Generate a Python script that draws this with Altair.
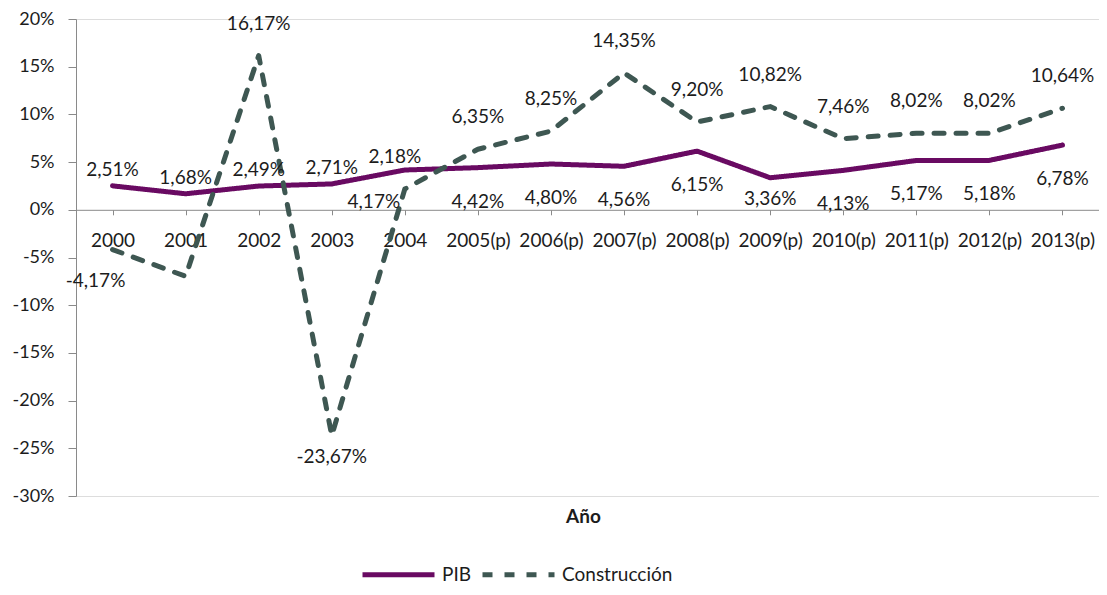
import altair as alt
import pandas as pd

years = ["2000", "2001", "2002", "2003", "2004", "2005(p)", "2006(p)", "2007(p)",
         "2008(p)", "2009(p)", "2010(p)", "2011(p)", "2012(p)", "2013(p)"]
pib = [2.51, 1.68, 2.49, 2.71, 4.17, 4.42, 4.80, 4.56, 6.15, 3.36, 4.13, 5.17, 5.18, 6.78]
construccion = [-4.17, -6.97, 16.17, -23.67, 2.18, 6.35, 8.25, 14.35, 9.20, 10.82,
                7.46, 8.02, 8.02, 10.64]
# where each data label sits relative to its point (None = no label shown)
pib_label_place = ["above_near", "above_near", "above_near", "above_near", "below_left",
                   "below", "below", "below", "below", "below_near", "below", "below",
                   "below", "below"]
con_label_place = ["below_left_c", None, "above", "below_near", "above_left",
                   "above", "above", "above", "above", "above", "above", "above", "above", "above"]
series_names = ["PIB", "Construcción"]
y_ticks = [-30, -25, -20, -15, -10, -5, 0, 5, 10, 15, 20]

PURPLE = "#690A62"
SLATE = "#3E5752"
TEXT = "#1c1c1c"
GRID = "#8a8a8a"
FONT = "Lato"

W, H = 1023, 477
TOP = 11


def fmt(v):
    return f"{v:.2f}".replace(".", ",") + "%"


rows = []
for y, v, p in zip(years, pib, pib_label_place):
    rows.append({"year": y, "value": v, "serie": "PIB", "label": fmt(v), "place": p})
for y, v, p in zip(years, construccion, con_label_place):
    rows.append({"year": y, "value": v, "serie": "Construcción", "label": fmt(v), "place": p})
df = pd.DataFrame(rows)

zero_y = H * 20 / 50

x_enc = alt.X("year:O", sort=years, title="Año",
              axis=alt.Axis(labelAngle=0, offset=-(H - zero_y), domainColor=GRID,
                            tickColor=GRID, tickSize=5, labelFont=FONT, labelFontSize=19,
                            labelColor=TEXT, labelPadding=26, labelBaseline="middle",
                            titleFont=FONT, titleFontSize=19, titleFontWeight="bold",
                            titleColor=TEXT, titleBaseline="middle",
                            titleY=(516 - 8 - TOP) - zero_y, titleX=507, grid=False))
y_enc = alt.Y("value:Q", title=None,
              scale=alt.Scale(domain=[-30, 20], nice=False, zero=False),
              axis=alt.Axis(values=y_ticks, labelExpr="datum.value + '%'", domainColor=GRID,
                            tickColor=GRID, tickSize=8, labelFont=FONT, labelFontSize=18,
                            labelColor=TEXT, labelPadding=14, grid=False))

legend_kw = dict(title=None, orient="none", direction="horizontal",
                 legendX=284, legendY=(572 - 8 - TOP) - 36, symbolType="stroke",
                 symbolSize=5184, symbolStrokeWidth=5,
                 labelFont=FONT, labelFontSize=19, labelColor=TEXT,
                 labelOffset=5, columnPadding=0, padding=0)
color_enc = alt.Color("serie:N", scale=alt.Scale(domain=series_names, range=[PURPLE, SLATE]),
                      legend=alt.Legend(**legend_kw))
dash_enc = alt.StrokeDash("serie:N", scale=alt.Scale(domain=series_names,
                                                     range=[[1, 0], [10, 12]]),
                          legend=alt.Legend(**legend_kw))

base = alt.Chart(df)

line_pib = base.transform_filter(alt.datum.serie == "PIB").mark_line(
    strokeWidth=5, strokeCap="round", strokeJoin="round").encode(
    x=x_enc, y=y_enc, color=color_enc, strokeDash=dash_enc)
line_con = base.transform_filter(alt.datum.serie == "Construcción").mark_line(
    strokeWidth=5, strokeCap="round", strokeJoin="round").encode(
    x=x_enc, y=y_enc, color=color_enc, strokeDash=dash_enc)

offsets = {
    "above_near": (0, -16),
    "above": (0, -32),
    "above_left": (-10, -32),
    "below": (0, 34),
    "below_near": (0, 21),
    "below_left": (-31, 32),
    "below_left_c": (-17, 31),
}
text_layers = []
for place, (dx, dy) in offsets.items():
    text_layers.append(
        base.transform_filter(alt.datum.place == place).mark_text(
            dx=dx, dy=dy, align="center", baseline="middle", font=FONT, fontSize=19,
            color=TEXT).encode(x=alt.X("year:O", sort=years), y="value:Q", text="label:N"))

chart = alt.layer(line_pib, line_con, *text_layers).properties(
    width=W, height=H,
    autosize=alt.AutoSizeParams(type="none"),
    padding={"left": 68, "top": TOP, "right": 0, "bottom": 579 - TOP - H},
).configure_view(strokeWidth=0).configure(background="white")

chart.save("out.html", embed_options={"renderer": "svg", "actions": False})
